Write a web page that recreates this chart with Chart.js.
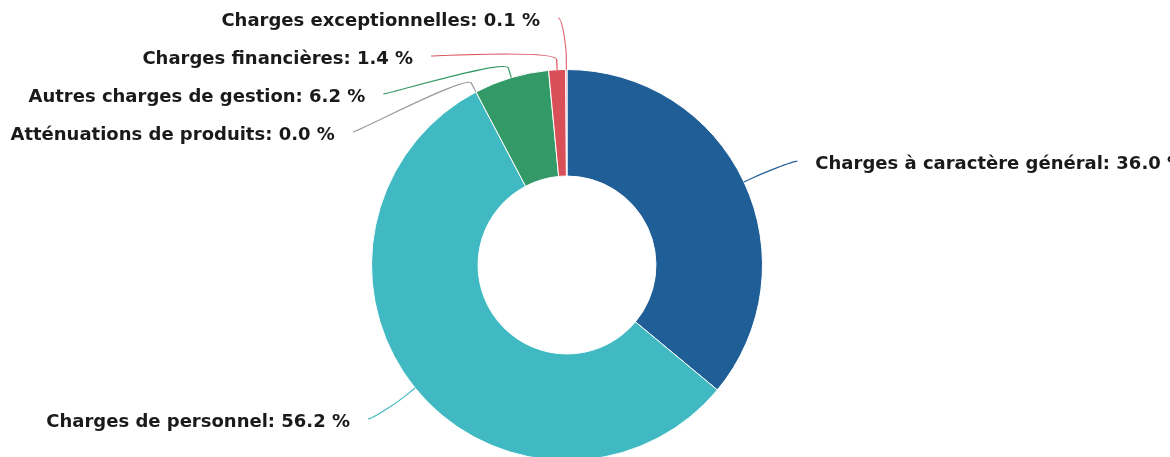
<!DOCTYPE html>
<html lang="fr">
<head>
    <meta charset="UTF-8">
    <title>Répartition des charges</title>
    <script src="https://cdn.jsdelivr.net/npm/chart.js"></script>
    <style>
        html, body { margin: 0; padding: 0; background: #ffffff; overflow: hidden; }
        #chart { display: block; }
    </style>
</head>
<body>
    <canvas id="chart" width="1170" height="470"></canvas>
    <script>
        // Data, clockwise from the top
        const categories = [
            'Charges à caractère général',
            'Charges de personnel',
            'Atténuations de produits',
            'Autres charges de gestion',
            'Charges financières',
            'Charges exceptionnelles'
        ];
        const shares = [36.0, 56.2, 0.0, 6.2, 1.4, 0.1];
        const sliceColors = ['#1f5e96', '#40b9c2', '#9c9c9c', '#339966', '#d94f58', '#e06b75'];

        // Draws Highcharts-like labels with connectors
        const pieLabels = {
            id: 'pieLabels',
            afterDatasetsDraw(chart) {
                const ctx = chart.ctx;
                const meta = chart.getDatasetMeta(0);
                const items = [];
                meta.data.forEach((arc, i) => {
                    const p = arc.getProps(['x', 'y', 'startAngle', 'endAngle', 'outerRadius']);
                    const mid = (p.startAngle + p.endAngle) / 2;
                    const RL = p.outerRadius + 49;
                    items.push({
                        i: i, mid: mid, cx: p.x, cy: p.y, r: p.outerRadius, RL: RL,
                        dir: Math.cos(mid) < 0 ? -1 : 1,
                        y: p.y + Math.sin(mid) * RL
                    });
                });

                [-1, 1].forEach(dir => distribute(items.filter(it => it.dir === dir), 38, 18, 500));

                ctx.save();
                ctx.font = 'bold 18px "DejaVu Sans"';
                ctx.textBaseline = 'middle';
                items.forEach(it => {
                    const dy = it.y - it.cy;
                    const labelX = it.cx + it.dir * Math.sqrt(Math.max(0, it.RL * it.RL - dy * dy));
                    const ex = labelX + it.dir * 9;
                    const ax = it.cx + Math.cos(it.mid) * it.r, ay = it.cy + Math.sin(it.mid) * it.r;
                    const bx = it.cx + Math.cos(it.mid) * (it.r + 10), by = it.cy + Math.sin(it.mid) * (it.r + 10);

                    ctx.beginPath();
                    ctx.strokeStyle = sliceColors[it.i];
                    ctx.lineWidth = 1.2;
                    ctx.moveTo(ex, it.y);
                    ctx.bezierCurveTo(ex - it.dir * 5, it.y, 2 * bx - ax, 2 * by - ay, bx, by);
                    ctx.lineTo(ax, ay);
                    ctx.stroke();

                    ctx.fillStyle = '#1a1a1a';
                    ctx.textAlign = it.dir > 0 ? 'left' : 'right';
                    ctx.fillText(categories[it.i] + ': ' + shares[it.i].toFixed(1) + ' %', labelX + it.dir * 27, it.y + 3);
                });
                ctx.restore();
            }
        };

        // Spread labels vertically so they don't overlap
        function distribute(list, gap, minY, maxY) {
            list.sort((a, b) => a.y - b.y);
            let groups = list.map(it => ({ items: [it], target: it.y }));
            let merged = true;
            while (merged) {
                merged = false;
                for (let k = 0; k < groups.length - 1; k++) {
                    const a = groups[k], b = groups[k + 1];
                    const aEnd = a.target + (a.items.length - 1) * gap / 2;
                    const bStart = b.target - (b.items.length - 1) * gap / 2;
                    if (bStart - aEnd < gap) {
                        const n = a.items.length + b.items.length;
                        groups.splice(k, 2, {
                            items: a.items.concat(b.items),
                            target: (a.target * a.items.length + b.target * b.items.length) / n
                        });
                        merged = true;
                        break;
                    }
                }
            }
            groups.forEach(g => {
                let start = g.target - (g.items.length - 1) * gap / 2;
                start = Math.min(start, maxY - (g.items.length - 1) * gap);
                start = Math.max(start, minY);
                g.items.forEach((it, k) => { it.y = start + k * gap; });
            });
        }

        new Chart(document.getElementById('chart'), {
            type: 'doughnut',
            data: {
                labels: categories,
                datasets: [{
                    data: shares,
                    backgroundColor: sliceColors,
                    borderColor: '#ffffff',
                    borderWidth: 1
                }]
            },
            options: {
                responsive: false,
                animation: false,
                cutout: '45.5%',
                layout: { padding: { top: 69, bottom: 9, left: 371, right: 407 } },
                plugins: {
                    legend: { display: false },
                    tooltip: { enabled: false }
                }
            },
            plugins: [pieLabels]
        });
    </script>
</body>
</html>
